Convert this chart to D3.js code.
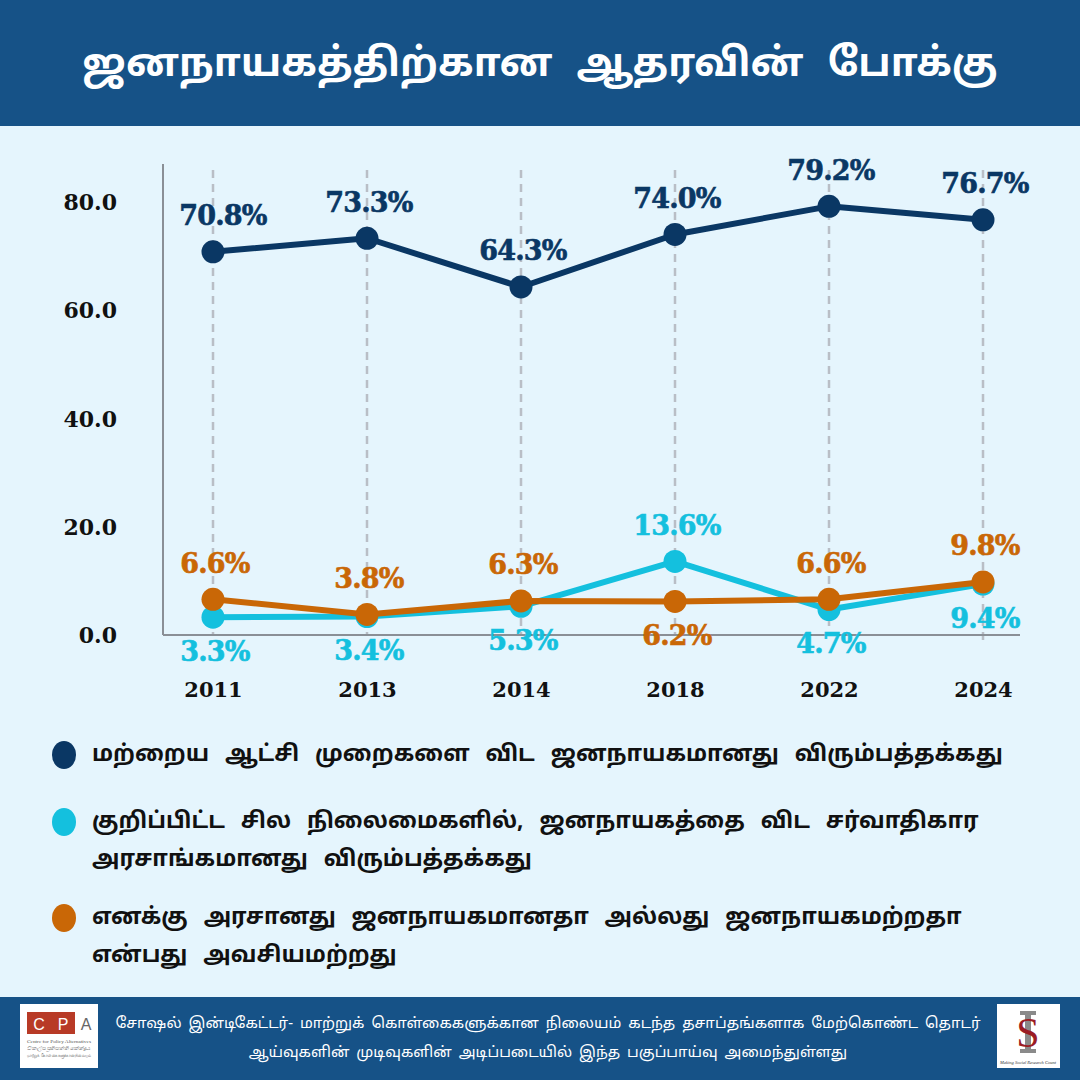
<!DOCTYPE html>
<html>
<head>
<meta charset="utf-8">
<script src="https://cdn.jsdelivr.net/npm/d3@7/dist/d3.min.js"></script>
<style>
  html, body { margin: 0; padding: 0; background: #e5f5fd; }
  svg { display: block; }
</style>
</head>
<body>
<svg id="chart" width="1080" height="1080"></svg>
<script>
// ---- data ----
const title = "ஜனநாயகத்திற்கான ஆதரவின் போக்கு";
const years = ["2011", "2013", "2014", "2018", "2022", "2024"];
const democracyPreferred = [70.8, 73.3, 64.3, 74.0, 79.2, 76.7];
const authoritarianOk = [3.3, 3.4, 5.3, 13.6, 4.7, 9.4];
const doesNotMatter = [6.6, 3.8, 6.3, 6.2, 6.6, 9.8];
const yTicks = [0, 20, 40, 60, 80];
const legendLabels = [
  ["மற்றைய ஆட்சி முறைகளை விட ஜனநாயகமானது விரும்பத்தக்கது"],
  ["குறிப்பிட்ட சில நிலைமைகளில், ஜனநாயகத்தை விட சர்வாதிகார", "அரசாங்கமானது விரும்பத்தக்கது"],
  ["எனக்கு அரசானது ஜனநாயகமானதா அல்லது ஜனநாயகமற்றதா", "என்பது அவசியமற்றது"]
];
const footerLines = [
  "சோஷல் இன்டிகேட்டர்- மாற்றுக் கொள்கைகளுக்கான நிலையம் கடந்த தசாப்தங்களாக மேற்கொண்ட தொடர்",
  "ஆய்வுகளின் முடிவுகளின் அடிப்படையில் இந்த பகுப்பாய்வு அமைந்துள்ளது"
];

// ---- styles ----
const colors = ["#0a3764", "#14c0de", "#c96706"];
const headerBlue = "#165287";
const tamilFont = "'Noto Sans Tamil', 'Lohit Tamil', 'Latha', 'Noto Sans', sans-serif";
const serifFont = "'DejaVu Serif', serif";

const svg = d3.select("#chart");

// background
svg.append("rect").attr("width", 1080).attr("height", 1080).attr("fill", "#e5f5fd");
// header
svg.append("rect").attr("x", 0).attr("y", 0).attr("width", 1080).attr("height", 126).attr("fill", headerBlue);
svg.append("text")
  .attr("x", 540).attr("y", 66)
  .attr("text-anchor", "middle").attr("dominant-baseline", "central")
  .attr("fill", "#ffffff")
  .attr("font-family", tamilFont)
  .attr("font-weight", "bold")
  .attr("font-size", 39)
  .attr("word-spacing", 14)
  .text(title);

// scales
const x = d3.scalePoint().domain(years).range([213, 983]);
const y = d3.scaleLinear().domain([0, 80]).range([635, 202]);

// vertical dashed gridlines
svg.append("g").selectAll("line").data(years).join("line")
  .attr("x1", d => x(d)).attr("x2", d => x(d))
  .attr("y1", 170).attr("y2", (d, i) => i === years.length - 1 ? 645 : 635)
  .attr("stroke", "#b9bec6").attr("stroke-width", 2.5)
  .attr("stroke-dasharray", "8,6");

// y axis tick labels + axis lines
const yAxis = d3.axisLeft(y).tickValues(yTicks).tickFormat(d3.format(".1f")).tickSize(0).tickPadding(46);
const gy = svg.append("g").attr("transform", "translate(163,0)").call(yAxis);
gy.select(".domain").remove();
gy.selectAll("text")
  .attr("font-family", serifFont).attr("font-weight", "bold")
  .attr("font-size", 22).attr("fill", "#111").attr("dy", "0.35em");
svg.append("line").attr("x1", 163).attr("x2", 163).attr("y1", 164).attr("y2", 635)
  .attr("stroke", "#8a8f96").attr("stroke-width", 2);
svg.append("line").attr("x1", 163).attr("x2", 1020).attr("y1", 635).attr("y2", 635)
  .attr("stroke", "#8a8f96").attr("stroke-width", 2);

// x axis labels
const xAxis = d3.axisBottom(x).tickSize(0).tickPadding(0);
const gx = svg.append("g").attr("transform", "translate(0,690)").call(xAxis);
gx.select(".domain").remove();
gx.selectAll("text")
  .attr("font-family", serifFont).attr("font-weight", "bold")
  .attr("font-size", 21).attr("fill", "#111").attr("dy", "0.35em").attr("y", 0);

// series
const series = [democracyPreferred, authoritarianOk, doesNotMatter];
const line = d3.line().x((d, i) => x(years[i])).y(d => y(d));

// draw cyan, then orange, then navy
[1, 2, 0].forEach(si => {
  const vals = series[si];
  svg.append("path").datum(vals)
    .attr("d", line).attr("fill", "none")
    .attr("stroke", colors[si]).attr("stroke-width", 6)
    .attr("stroke-linejoin", "round");
  svg.append("g").selectAll("circle").data(vals).join("circle")
    .attr("cx", (d, i) => x(years[i])).attr("cy", d => y(d))
    .attr("r", 11.5).attr("fill", colors[si]);
});

// labels
function labelAbove(si, i) {
  if (si === 0) return true;
  if (si === 1) return authoritarianOk[i] > doesNotMatter[i];
  return doesNotMatter[i] >= authoritarianOk[i];
}
[0, 1, 2].forEach(si => {
  svg.append("g").selectAll("text").data(series[si]).join("text")
    .attr("x", (d, i) => x(years[i]) + (si === 0 && i === 0 ? 10 : 2))
    .attr("y", (d, i) => y(d) + (labelAbove(si, i) ? -36 : 34))
    .attr("text-anchor", "middle").attr("dominant-baseline", "central")
    .attr("font-family", serifFont).attr("font-weight", "bold")
    .attr("font-size", 27).attr("fill", colors[si])
    .attr("letter-spacing", -0.8)
    .attr("stroke", colors[si]).attr("stroke-width", 0.6)
    .text(d => d.toFixed(1) + "%");
});

// legend
const legendY = [755, 822, 918];
legendLabels.forEach((lines, li) => {
  svg.append("ellipse").attr("cx", 64).attr("cy", legendY[li])
    .attr("rx", 12).attr("ry", 14).attr("fill", colors[li]);
  lines.forEach((t, k) => {
    svg.append("text")
      .attr("x", 92).attr("y", legendY[li] + k * 38)
      .attr("dominant-baseline", "central")
      .attr("font-family", tamilFont).attr("font-weight", "bold")
      .attr("font-size", 22.5).attr("fill", "#111")
      .attr("word-spacing", 10)
      .text(t);
  });
});

// footer
svg.append("rect").attr("x", 0).attr("y", 997).attr("width", 1080).attr("height", 83).attr("fill", headerBlue);
footerLines.forEach((t, k) => {
  svg.append("text")
    .attr("x", 548).attr("y", 1024 + k * 29)
    .attr("text-anchor", "middle").attr("dominant-baseline", "central")
    .attr("font-family", tamilFont).attr("font-size", 15).attr("fill", "#ffffff")
    .attr("word-spacing", 3)
    .text(t);
});

// CPA logo
const cpa = svg.append("g");
cpa.append("rect").attr("x", 20).attr("y", 1004).attr("width", 78).attr("height", 64).attr("fill", "#ffffff");
cpa.append("rect").attr("x", 27).attr("y", 1012).attr("width", 48).attr("height", 22).attr("fill", "#b83a26");
cpa.append("text").attr("x", 39).attr("y", 1024).attr("text-anchor", "middle").attr("dominant-baseline", "central")
  .attr("font-family", "'Liberation Sans', sans-serif").attr("font-size", 16).attr("fill", "#fff").text("C");
cpa.append("text").attr("x", 63).attr("y", 1024).attr("text-anchor", "middle").attr("dominant-baseline", "central")
  .attr("font-family", "'Liberation Sans', sans-serif").attr("font-size", 16).attr("fill", "#fff").text("P");
cpa.append("text").attr("x", 86).attr("y", 1024).attr("text-anchor", "middle").attr("dominant-baseline", "central")
  .attr("font-family", "'Liberation Sans', sans-serif").attr("font-size", 16).attr("fill", "#666").text("A");
["Centre for Policy Alternatives", "විකල්ප ප්‍රතිපත්ති කේන්ද්‍රය", "மாற்றுக் கொள்கைகளுக்கான நிலையம்"].forEach((t, k) => {
  cpa.append("text").attr("x", 27).attr("y", 1043 + k * 7)
    .attr("font-family", "'Liberation Serif', serif").attr("font-size", 5).attr("fill", "#555")
    .attr("textLength", 64).attr("lengthAdjust", "spacingAndGlyphs").text(t);
});

// Social Indicator logo
const sg = svg.append("g");
sg.append("rect").attr("x", 997).attr("y", 1004).attr("width", 63).attr("height", 64).attr("fill", "#ffffff");
sg.append("rect").attr("x", 1020).attr("y", 1011).attr("width", 16).attr("height", 4).attr("fill", "#8a8a8a");
sg.append("rect").attr("x", 1025).attr("y", 1011).attr("width", 6).attr("height", 42).attr("fill", "#8a8a8a");
sg.append("rect").attr("x", 1020).attr("y", 1049).attr("width", 16).attr("height", 4).attr("fill", "#8a8a8a");
sg.append("text").attr("x", 1028).attr("y", 1047).attr("text-anchor", "middle")
  .attr("font-family", "'Liberation Serif', serif").attr("font-size", 42).attr("fill", "#9b1c24").text("S");
sg.append("text").attr("x", 1028).attr("y", 1064).attr("text-anchor", "middle")
  .attr("font-family", "'Liberation Serif', serif").attr("font-style", "italic").attr("font-size", 4.5).attr("fill", "#333")
  .text("Making Social Research Count");
</script>
</body>
</html>
